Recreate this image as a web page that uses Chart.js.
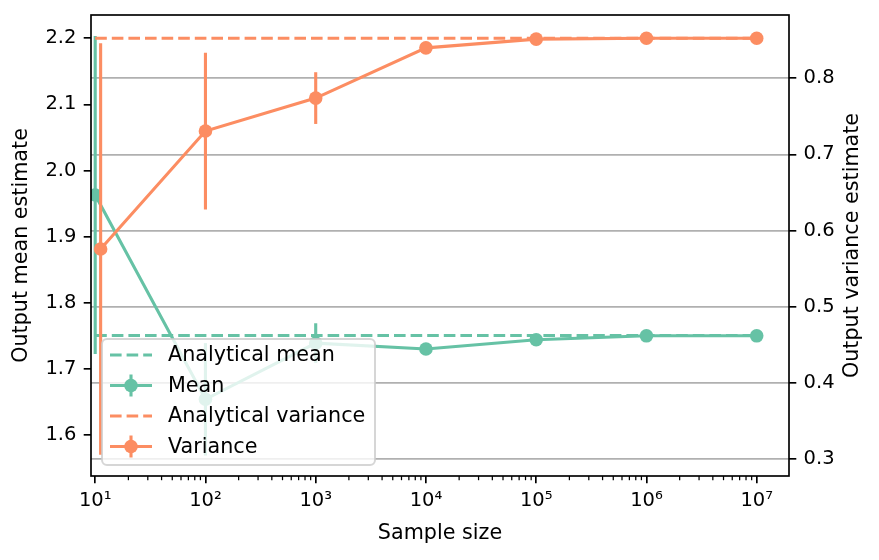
<!DOCTYPE html>
<html>
<head>
<meta charset="utf-8">
<script src="https://cdn.jsdelivr.net/npm/chart.js@4.4.1/dist/chart.umd.min.js"></script>
<style>
  html, body { margin: 0; padding: 0; background: #fff; }
  #wrap { width: 879px; height: 560px; position: relative; }
</style>
</head>
<body>
<div id="wrap"><canvas id="convChart"></canvas></div>
<script>
const sampleSizes = [10, 100, 1000, 10000, 100000, 1000000, 10000000];
const varSampleSizes = [11.2, 100, 1000, 10000, 100000, 1000000, 10000000];
const meanEstimates = [1.963, 1.654, 1.739, 1.730, 1.744, 1.750, 1.750];
const meanErrors = [0.2405, 0.085, 0.030, 0.003, 0.002, 0.001, 0.0005];
const varEstimates = [0.5756, 0.7307, 0.774, 0.840, 0.8515, 0.8526, 0.8526];
const varErrors = [0.2704, 0.103, 0.034, 0.008, 0.003, 0.001, 0.0005];
const analyticalMean = 1.7504;
const analyticalVariance = 0.8526;
const analyticalRange = [10, 10000000];

const meanTicks = [1.6, 1.7, 1.8, 1.9, 2.0, 2.1, 2.2];
const varTicks = [0.3, 0.4, 0.5, 0.6, 0.7, 0.8];
const sizeTicks = [10, 100, 1000, 10000, 100000, 1000000, 10000000];
const sizeLabels = ['10\u00b9', '10\u00b2', '10\u00b3', '10\u2074', '10\u2075', '10\u2076', '10\u2077'];

const green = '#66c2a5';
const orange = '#fc8d62';
const FONT = "'DejaVu Sans', sans-serif";
const LW = 3.1;          // 1.5pt at 150 dpi
const DASH = [11.6, 5];
const MARKER = 6.8;

Chart.defaults.font.family = FONT;
Chart.defaults.font.size = 19.5;
Chart.defaults.color = '#000';

function pts(xs, ys) {
    return xs.map((x, i) => ({ x: x, y: ys[i] }));
}

// error bars, drawn just before their own dataset
const errorBars = {
    id: 'errorBars',
    beforeDatasetDraw(chart, args) {
        const ds = chart.data.datasets[args.index];
        if (!ds.errors) return;
        const yScale = chart.scales[ds.yAxisID];
        const area = chart.chartArea;
        const ctx = chart.ctx;
        ctx.save();
        ctx.beginPath();
        ctx.rect(area.left, area.top, area.right - area.left, area.bottom - area.top);
        ctx.clip();
        ctx.strokeStyle = ds.borderColor;
        ctx.lineWidth = LW;
        args.meta.data.forEach((p, i) => {
            const v = ds.data[i].y;
            const e = ds.errors[i];
            ctx.beginPath();
            ctx.moveTo(p.x, yScale.getPixelForValue(v + e));
            ctx.lineTo(p.x, yScale.getPixelForValue(v - e));
            ctx.stroke();
        });
        ctx.restore();
    }
};

// frame, minor ticks, axis titles and legend
const decorations = {
    id: 'decorations',
    afterDatasetsDraw(chart) {
        const ctx = chart.ctx;
        const a = chart.chartArea;
        const x = chart.scales.x;
        ctx.save();
        ctx.strokeStyle = '#000';
        ctx.lineWidth = 1.25;
        for (let n = 1; n <= 7; n++) {
            for (let m = 2; m <= 9; m++) {
                const v = m * Math.pow(10, n);
                if (v < x.min || v > x.max) continue;
                const px = x.getPixelForValue(v);
                ctx.beginPath();
                ctx.moveTo(px, a.bottom);
                ctx.lineTo(px, a.bottom + 4.2);
                ctx.stroke();
            }
        }
        ctx.lineWidth = 1.67;
        ctx.strokeRect(a.left, a.top, a.right - a.left, a.bottom - a.top);
        ctx.restore();
    },
    afterDraw(chart) {
        const ctx = chart.ctx;
        const a = chart.chartArea;
        ctx.save();
        ctx.fillStyle = '#000';
        ctx.font = '20.7px ' + FONT;
        ctx.textAlign = 'center';
        ctx.textBaseline = 'middle';
        ctx.fillText('Sample size', (a.left + a.right) / 2, 534);
        const midY = (a.top + a.bottom) / 2;
        ctx.save();
        ctx.translate(22, midY);
        ctx.rotate(-Math.PI / 2);
        ctx.fillText('Output mean estimate', 0, 0);
        ctx.restore();
        ctx.save();
        ctx.translate(853, midY);
        ctx.rotate(-Math.PI / 2);
        ctx.fillText('Output variance estimate', 0, 0);
        ctx.restore();

        // legend box
        const bx = 102, by = 339, bw = 273, bh = 126, r = 5;
        ctx.beginPath();
        ctx.moveTo(bx + r, by);
        ctx.arcTo(bx + bw, by, bx + bw, by + bh, r);
        ctx.arcTo(bx + bw, by + bh, bx, by + bh, r);
        ctx.arcTo(bx, by + bh, bx, by, r);
        ctx.arcTo(bx, by, bx + bw, by, r);
        ctx.closePath();
        ctx.fillStyle = 'rgba(255,255,255,0.8)';
        ctx.fill();
        ctx.strokeStyle = 'rgba(204,204,204,0.8)';
        ctx.lineWidth = 2;
        ctx.stroke();

        const items = [
            { label: 'Analytical mean', color: green, dashed: true, y: 355 },
            { label: 'Mean', color: green, dashed: false, y: 385.5 },
            { label: 'Analytical variance', color: orange, dashed: true, y: 416 },
            { label: 'Variance', color: orange, dashed: false, y: 446.5 }
        ];
        items.forEach(it => {
            ctx.strokeStyle = it.color;
            ctx.lineWidth = LW;
            ctx.setLineDash(it.dashed ? DASH : []);
            ctx.beginPath();
            ctx.moveTo(110, it.y);
            ctx.lineTo(152, it.y);
            ctx.stroke();
            ctx.setLineDash([]);
            if (!it.dashed) {
                ctx.beginPath();
                ctx.moveTo(131, it.y - 11);
                ctx.lineTo(131, it.y + 11);
                ctx.stroke();
                ctx.fillStyle = it.color;
                ctx.beginPath();
                ctx.arc(131, it.y, MARKER, 0, Math.PI * 2);
                ctx.fill();
            }
            ctx.fillStyle = '#000';
            ctx.textAlign = 'left';
            ctx.fillText(it.label, 168, it.y + 1);
        });
        ctx.restore();
    }
};

const datasets = [
    {
        label: 'Variance',
        data: pts(varSampleSizes, varEstimates),
        errors: varErrors,
        yAxisID: 'y1',
        borderColor: orange,
        backgroundColor: orange,
        pointBackgroundColor: orange,
        borderWidth: LW,
        pointRadius: MARKER,
        pointBorderWidth: 0
    },
    {
        label: 'Analytical variance',
        data: pts(analyticalRange, [analyticalVariance, analyticalVariance]),
        yAxisID: 'y1',
        borderColor: orange,
        borderWidth: LW,
        borderDash: DASH,
        pointRadius: 0
    },
    {
        label: 'Mean',
        data: pts(sampleSizes, meanEstimates),
        errors: meanErrors,
        yAxisID: 'y',
        borderColor: green,
        backgroundColor: green,
        pointBackgroundColor: green,
        borderWidth: LW,
        pointRadius: MARKER,
        pointBorderWidth: 0
    },
    {
        label: 'Analytical mean',
        data: pts(analyticalRange, [analyticalMean, analyticalMean]),
        yAxisID: 'y',
        borderColor: green,
        borderWidth: LW,
        borderDash: DASH,
        pointRadius: 0
    }
];

const tickGrid = { drawOnChartArea: false, tickLength: 7.3, tickColor: '#000', lineWidth: 1.67 };

function fixWidth(w) {
    return s => { s.width = w; s.paddingTop = 0; s.paddingBottom = 0; };
}

new Chart(document.getElementById('convChart').getContext('2d'), {
    type: 'line',
    data: { datasets: datasets },
    options: {
        responsive: true,
        maintainAspectRatio: false,
        animation: false,
        clip: 0,
        layout: { padding: { top: 15, left: 0, right: 0, bottom: 0 } },
        plugins: {
            legend: { display: false },
            tooltip: { enabled: false }
        },
        scales: {
            x: {
                type: 'logarithmic',
                min: 9.16,
                max: 19630000,
                afterBuildTicks: s => { s.ticks = sizeTicks.map(v => ({ value: v })); },
                afterFit: s => { s.height = 84; s.paddingLeft = 0; s.paddingRight = 0; },
                border: { display: false },
                grid: tickGrid,
                ticks: {
                    autoSkip: false,
                    maxRotation: 0,
                    padding: 6,
                    callback: (v, i) => sizeLabels[i]
                }
            },
            y: {
                position: 'left',
                min: 1.538,
                max: 2.2352,
                afterBuildTicks: s => { s.ticks = meanTicks.map(v => ({ value: v })); },
                afterFit: fixWidth(91),
                border: { display: false },
                grid: tickGrid,
                ticks: { padding: 7.3, callback: v => v.toFixed(1) }
            },
            y1: {
                position: 'right',
                min: 0.2773,
                max: 0.8832,
                afterBuildTicks: s => { s.ticks = varTicks.map(v => ({ value: v })); },
                afterFit: fixWidth(90),
                border: { display: false },
                grid: { color: '#b0b0b0', tickColor: '#000', tickLength: 7.3, lineWidth: 1.67 },
                ticks: { padding: 7.3, callback: v => v.toFixed(1) }
            }
        }
    },
    plugins: [errorBars, decorations]
});
</script>
</body>
</html>
